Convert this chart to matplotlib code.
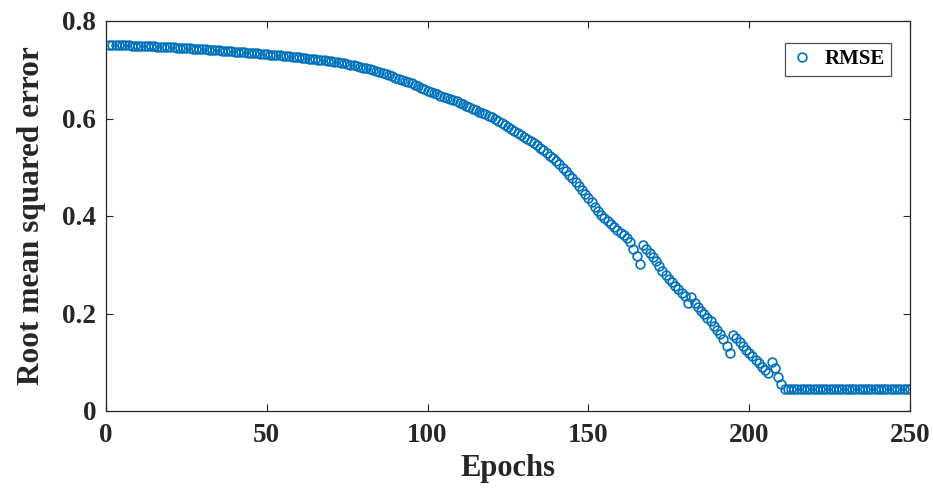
import matplotlib
matplotlib.use("Agg")
import matplotlib.pyplot as plt
import numpy as np

# Epoch indices and RMSE values
epochs = list(range(1, 251))
rmse = [
    0.751, 0.751, 0.751, 0.750, 0.750, 0.750, 0.750, 0.749, 0.749, 0.749,
    0.749, 0.748, 0.748, 0.748, 0.748, 0.747, 0.747, 0.747, 0.746, 0.746,
    0.746, 0.745, 0.745, 0.745, 0.744, 0.744, 0.743, 0.743, 0.743, 0.742,
    0.742, 0.741, 0.741, 0.740, 0.740, 0.739, 0.739, 0.738, 0.738, 0.737,
    0.737, 0.736, 0.736, 0.735, 0.735, 0.734, 0.734, 0.733, 0.733, 0.732,
    0.731, 0.731, 0.730, 0.730, 0.729, 0.728, 0.728, 0.727, 0.726, 0.726,
    0.725, 0.724, 0.723, 0.722, 0.722, 0.721, 0.720, 0.719, 0.718, 0.717,
    0.716, 0.715, 0.714, 0.713, 0.711, 0.710, 0.709, 0.707, 0.706, 0.704,
    0.703, 0.701, 0.699, 0.697, 0.695, 0.693, 0.691, 0.689, 0.687, 0.684,
    0.682, 0.679, 0.677, 0.674, 0.672, 0.669, 0.666, 0.663, 0.660, 0.657,
    0.655, 0.652, 0.650, 0.647, 0.645, 0.642, 0.640, 0.637, 0.635, 0.632,
    0.629, 0.626, 0.623, 0.620, 0.617, 0.614, 0.612, 0.609, 0.606, 0.603,
    0.599, 0.595, 0.591, 0.587, 0.583, 0.579, 0.575, 0.571, 0.567, 0.563,
    0.558, 0.554, 0.549, 0.545, 0.540, 0.535, 0.530, 0.524, 0.519, 0.513,
    0.506, 0.499, 0.492, 0.485, 0.477, 0.469, 0.461, 0.453, 0.445, 0.437,
    0.428, 0.419, 0.410, 0.402, 0.395, 0.389, 0.383, 0.377, 0.371, 0.366,
    0.361, 0.355, 0.346, 0.332, 0.317, 0.302, 0.340, 0.333, 0.325, 0.316,
    0.307, 0.297, 0.288, 0.280, 0.270, 0.264, 0.257, 0.250, 0.243, 0.236,
    0.222, 0.233, 0.222, 0.214, 0.206, 0.199, 0.191, 0.184, 0.175, 0.167,
    0.158, 0.148, 0.133, 0.118, 0.156, 0.150, 0.141, 0.133, 0.126, 0.119,
    0.112, 0.105, 0.098, 0.091, 0.084, 0.078, 0.100, 0.088, 0.070, 0.056,
    0.045, 0.045, 0.045, 0.045, 0.045, 0.045, 0.045, 0.045, 0.045, 0.045,
    0.045, 0.045, 0.045, 0.045, 0.045, 0.045, 0.045, 0.045, 0.045, 0.045,
    0.045, 0.045, 0.045, 0.045, 0.045, 0.045, 0.045, 0.045, 0.045, 0.045,
    0.045, 0.045, 0.045, 0.045, 0.045, 0.045, 0.045, 0.045, 0.045, 0.045,
]
x_ticks = [0, 50, 100, 150, 200, 250]
y_ticks = [0, 0.2, 0.4, 0.6, 0.8]
y_tick_labels = ["0", "0.2", "0.4", "0.6", "0.8"]
series_label = "RMSE"
x_label = "Epochs"
y_label = "Root mean squared error"

plt.rcParams['font.family'] = ['Liberation Serif', 'DejaVu Serif']
plt.rcParams['font.weight'] = 'bold'

fig = plt.figure(figsize=(9.33, 4.88), dpi=100)
ax = fig.add_axes([106/933, 1 - 411/488, (910-106)/933, (411-21)/488])

ax.plot(epochs, rmse, linestyle='none', marker='o', markersize=6.3,
        markerfacecolor='none', markeredgecolor='#0072BD', markeredgewidth=1.2,
        label=series_label)

ax.set_xlim(0, 250)
ax.set_ylim(0, 0.8)
ax.set_xticks(x_ticks)
ax.set_xticklabels([str(t) for t in x_ticks])
ax.set_yticks(y_ticks)
ax.set_yticklabels(y_tick_labels)

ax.tick_params(direction='in', length=5, width=0.8, top=True, right=True,
               labelsize=19.5, colors='#262626')
ax.tick_params(axis='x', pad=9)
ax.tick_params(axis='y', pad=7)
for lab in ax.get_xticklabels() + ax.get_yticklabels():
    lab.set_fontweight('bold')
for s in ax.spines.values():
    s.set_color('#262626')
    s.set_linewidth(0.9)

ax.set_xlabel(x_label, fontsize=22, fontweight='bold', color='#262626', labelpad=4)
ax.set_ylabel(y_label, fontsize=22.5, fontweight='bold', color='#262626', labelpad=12)

leg = ax.legend(loc='upper right', bbox_to_anchor=(891/933, 1 - 43/488),
                bbox_transform=fig.transFigure, borderaxespad=0,
                prop={'family': 'Liberation Serif', 'weight': 'bold', 'size': 15},
                frameon=True, fancybox=False, edgecolor='#262626',
                handlelength=1.0, handletextpad=0.6, borderpad=0.3)
leg.get_frame().set_linewidth(0.9)

fig.savefig("out.png", dpi=100)
